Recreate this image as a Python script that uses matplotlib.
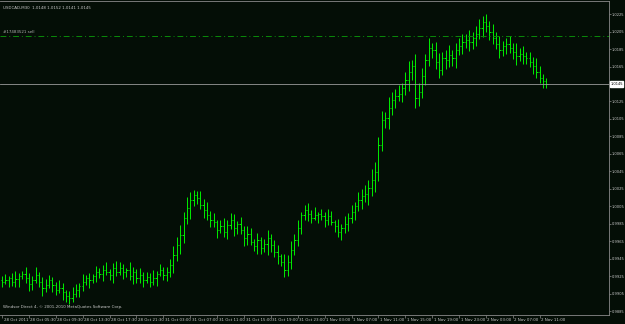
import matplotlib
matplotlib.use("Agg")
import matplotlib.pyplot as plt
import matplotlib.transforms as mtransforms
import numpy as np

# USDCAD M30 closes
closes = [
    0.9919, 0.9921, 0.9923, 0.9919, 0.9922, 0.9925, 0.9928, 0.9923, 0.9916, 0.9921,
    0.9927, 0.9919, 0.9912, 0.9915, 0.9921, 0.9915, 0.9910, 0.9912, 0.9907, 0.9903,
    0.9900, 0.9905, 0.9910, 0.9914, 0.9919, 0.9923, 0.9921, 0.9925, 0.9930, 0.9928,
    0.9932, 0.9930, 0.9927, 0.9935, 0.9930, 0.9935, 0.9930, 0.9932, 0.9925, 0.9930,
    0.9923, 0.9927, 0.9921, 0.9924, 0.9919, 0.9923, 0.9928, 0.9932, 0.9927, 0.9930,
    0.9938, 0.9950, 0.9961, 0.9972, 0.9992, 1.0003, 1.0012, 1.0018, 1.0015, 1.0007,
    1.0001, 0.9995, 0.9990, 0.9987, 0.9978, 0.9983, 0.9976, 0.9984, 0.9990, 0.9980,
    0.9985, 0.9978, 0.9969, 0.9974, 0.9964, 0.9960, 0.9967, 0.9958, 0.9962, 0.9969,
    0.9961, 0.9953, 0.9948, 0.9942, 0.9932, 0.9942, 0.9955, 0.9967, 0.9980, 0.9995,
    1.0001, 0.9996, 0.9992, 0.9995, 0.9996, 0.9994, 0.9990, 0.9994, 0.9987, 0.9983,
    0.9976, 0.9980, 0.9985, 0.9992, 0.9999, 1.0005, 1.0012, 1.0017, 1.0019, 1.0026,
    1.0035, 1.0044, 1.0075, 1.0104, 1.0106, 1.0118, 1.0127, 1.0131, 1.0134, 1.0140,
    1.0150, 1.0159, 1.0166, 1.0129, 1.0136, 1.0154, 1.0172, 1.0186, 1.0184, 1.0170,
    1.0161, 1.0175, 1.0172, 1.0178, 1.0175, 1.0184, 1.0188, 1.0193, 1.0195, 1.0193,
    1.0198, 1.0202, 1.0209, 1.0216, 1.0211, 1.0204, 1.0198, 1.0191, 1.0184, 1.0188,
    1.0191, 1.0186, 1.0182, 1.0177, 1.0179, 1.0177, 1.0175, 1.0170, 1.0166, 1.0159,
    1.0152, 1.0148, 1.0145,
]
first_open = 0.9921

# wicks beyond the body, in pips
up_wick = [
    5, 7, 3, 6, 9, 4, 3, 8, 6, 4,
    9, 3, 5, 7, 6, 3, 4, 9, 6, 3,
    5, 8, 6, 3, 9, 4, 6, 3, 7, 5,
    6, 9, 3, 5, 8, 6, 4, 3, 9, 6,
    4, 8, 3, 6, 5, 9, 3, 7, 4, 6,
    7, 10, 9, 12, 7, 13, 9, 6, 5, 8,
    6, 9, 5, 8, 3, 6, 9, 5, 8, 6,
    3, 8, 5, 9, 6, 4, 8, 3, 6, 9,
    5, 6, 8, 3, 9, 7, 10, 6, 9, 4,
    6, 8, 5, 9, 3, 6, 5, 8, 6, 3,
    8, 5, 9, 6, 8, 5, 9, 8, 10, 9,
    13, 12, 9, 10, 7, 12, 9, 8, 10, 6,
    9, 12, 7, 13, 10, 9, 7, 12, 6, 9,
    10, 7, 9, 12, 6, 8, 10, 9, 7, 12,
    6, 9, 10, 7, 9, 6, 10, 7, 9, 6,
    7, 9, 6, 10, 7, 9, 5, 7, 6, 9,
    7, 5, 4,
]
dn_wick = [
    6, 3, 8, 5, 6, 9, 3, 5, 8, 6,
    3, 6, 9, 5, 3, 8, 6, 4, 9, 7,
    6, 4, 3, 8, 6, 4, 9, 3, 6, 5,
    8, 3, 6, 9, 5, 3, 8, 6, 4, 9,
    6, 5, 8, 3, 6, 4, 9, 3, 6, 7,
    6, 9, 7, 10, 9, 7, 12, 6, 7, 5,
    9, 6, 8, 5, 9, 3, 6, 8, 5, 9,
    6, 4, 9, 8, 3, 6, 9, 7, 5, 12,
    8, 6, 9, 5, 8, 6, 9, 5, 7, 6,
    5, 8, 6, 3, 9, 5, 8, 6, 3, 7,
    6, 9, 5, 8, 6, 9, 5, 10, 7, 12,
    9, 13, 10, 7, 9, 12, 8, 9, 6, 10,
    7, 13, 9, 12, 9, 7, 10, 6, 9, 8,
    9, 6, 10, 8, 9, 12, 6, 9, 7, 10,
    8, 9, 6, 10, 7, 9, 7, 6, 9, 7,
    9, 6, 8, 10, 6, 9, 7, 6, 9, 7,
    6, 7, 4,
]

time_labels = [
    "28 Oct 2011", "28 Oct 05:30", "28 Oct 09:30", "28 Oct 13:30", "28 Oct 17:30",
    "28 Oct 21:30", "31 Oct 03:00", "31 Oct 07:00", "31 Oct 11:00", "31 Oct 15:00",
    "31 Oct 19:00", "31 Oct 23:00", "1 Nov 03:00", "1 Nov 07:00", "1 Nov 11:00",
    "1 Nov 15:00", "1 Nov 19:00", "1 Nov 23:00", "2 Nov 03:00", "2 Nov 07:00",
    "2 Nov 11:00",
]
bars_per_label = 8
price_ticks = [1.0225, 1.0205, 1.0185, 1.0165, 1.0125, 1.0105, 1.0085, 1.0065,
               1.0045, 1.0025, 1.0005, 0.9985, 0.9965, 0.9945, 0.9925, 0.9905, 0.9885]
bid = 1.0145
order_price = 1.0200
header = "USDCAD,M30  1.0148 1.0152 1.0141 1.0145"
order_label = "#17483521 sell"
footer = "Windsor Direct 4, \u00a9 2001-2010 MetaQuotes Software Corp."

bg = "#040e06"
txt = "#c8c8c8"
grey = "#8a8a8a"
narrow = ["Liberation Sans Narrow", "DejaVu Sans"]
fs = 2.9
fs_y = 2.6

closes = np.array(closes)
opens = np.concatenate([[first_open], closes[:-1]])
highs = np.maximum(opens, closes) + np.array(up_wick) * 0.0001
lows = np.minimum(opens, closes) - np.array(dn_wick) * 0.0001
x = np.arange(len(closes))

fig = plt.figure(figsize=(6.25, 3.24), dpi=100, facecolor=bg)
ax = fig.add_axes([0, 9 / 324, 609 / 625, 314 / 324], facecolor=bg)

ax.vlines(x, lows, highs, color="#00ee00", lw=0.7)
ax.hlines(opens, x - 0.35, x, color="#00ee00", lw=0.7)
ax.hlines(closes, x, x + 0.35, color="#00ee00", lw=0.7)

ax.axhline(bid, color="#9a9a9a", lw=0.6)
ax.axhline(order_price, color="#0a8a0a", lw=0.7, ls=(0, (6, 3, 1, 3)))

ax.set_xlim(-0.6, 180.6)
ax.set_ylim(0.98809, 1.02399)

# price scale on the right
ax.yaxis.tick_right()
ax.set_yticks(price_ticks)
ax.set_yticklabels([f"{p:.4f}" for p in price_ticks], family=narrow)
ax.tick_params(axis="y", colors=grey, labelcolor=txt, labelsize=fs_y, length=1.5, width=0.5, pad=0.6)

tick_pos = [i * bars_per_label for i in range(len(time_labels))]
ax.set_xticks(tick_pos)
ax.set_xticklabels(time_labels, family=narrow)
ax.tick_params(axis="x", colors=grey, labelcolor=txt, labelsize=fs, length=2.5, width=0.5, pad=-0.5)
shift = mtransforms.ScaledTranslation(1.5 / 100, 0, fig.dpi_scale_trans)
for lab in ax.get_xticklabels():
    lab.set_horizontalalignment("left")
    lab.set_transform(lab.get_transform() + shift)

for side in ["top", "bottom", "right"]:
    ax.spines[side].set_color(grey)
    ax.spines[side].set_linewidth(0.6)
ax.spines["left"].set_visible(False)

# current bid tag
ax.text(1.002, bid, f"{bid:.4f}", transform=ax.get_yaxis_transform(), fontsize=fs_y,
        family=narrow, color="black", va="center", ha="left", clip_on=False,
        bbox=dict(facecolor="white", edgecolor="white", pad=0.4))

ax.text(0.005, 0.985, header, transform=ax.transAxes, fontsize=fs, family=narrow,
        color=txt, va="top")
ax.text(0.005, order_price + 0.0002, order_label, fontsize=fs, family=narrow,
        color="#b0b0b0", va="bottom", transform=ax.get_yaxis_transform())
ax.text(0.005, 0.018, footer, transform=ax.transAxes, fontsize=fs, family=narrow,
        color=txt, va="bottom")

fig.savefig("out.png", dpi=100, facecolor=bg)
